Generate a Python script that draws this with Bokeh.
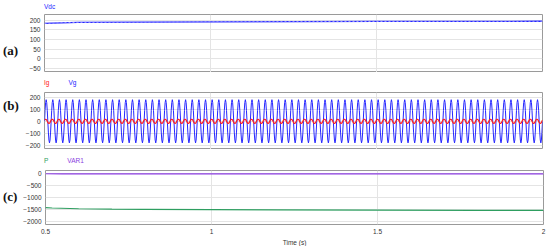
import numpy as np
from bokeh.plotting import figure
from bokeh.layouts import column, row
from bokeh.models import FixedTicker, Range1d, Div
from bokeh.embed import file_html
from bokeh.resources import INLINE

# ---------------- data ----------------
x_ticks = [0.5, 1, 1.5, 2]
x_tick_labels = {0.5: "0.5", 1: "1", 1.5: "1.5", 2: "2"}

vdc_t = [0.5, 0.55, 0.6, 0.8, 1.0, 1.5, 2.0]
vdc_v = [184, 187, 189, 191, 192, 194, 195]
a_ticks = [-50, 0, 50, 100, 150, 200]

grid_freq = 50           # Hz, cycles counted on the picture
n_cycles = 75
vg_cycle = [0, 90, 156, 180, 156, 90, 0, -90, -156, -180, -156, -90]
ig_cycle = [10, 15, 17, 15, 10, 0, -10, -15, -17, -15, -10, 0]
b_ticks = [-200, -100, 0, 100, 200]

p_t = [0.5, 0.52, 0.6, 0.7, 0.8, 1.0, 1.2, 1.5, 1.8, 2.0]
p_v = [-1420, -1440, -1470, -1490, -1500, -1510, -1520, -1530, -1535, -1540]
var_t = [0.5, 0.55, 0.6, 1.0, 1.5, 2.0]
var_v = [-5, -8, -10, -10, -12, -12]
c_ticks = [-2000, -1500, -1000, -500, 0]

# build sinusoidal traces from the per-cycle samples
spc = len(vg_cycle)
sine_t = 0.5 + np.arange(n_cycles * spc + 1) / (spc * grid_freq)
vg_v = np.array((vg_cycle * (n_cycles + 1))[: len(sine_t)])
ig_v = np.array((ig_cycle * (n_cycles + 1))[: len(sine_t)])

# ---------------- styling ----------------
FONT = "Liberation Sans"
SMALL = "6.5px"
TXT = "#333333"
GRID = "#e4e4e4"
OUTLINE = "#9a9a9a"
BLUE = "#2626ff"
RED = "#ff2020"
GREEN = "#2e9e60"
PURPLE = "#8a3de0"

FW = 498
LBL_W = 20


def make_panel(frame_h, border_top, border_bottom, y_range, y_ticks, show_x):
    p = figure(
        frame_width=FW, frame_height=frame_h,
        min_border_left=24, min_border_right=8,
        min_border_top=border_top, min_border_bottom=border_bottom,
        x_range=Range1d(0.5, 2.0), y_range=Range1d(*y_range),
        output_backend="svg", toolbar_location=None,
        background_fill_color="white", border_fill_color="white",
        margin=0,
    )
    p.outline_line_color = OUTLINE
    p.outline_line_width = 1
    for ax in (p.xaxis, p.yaxis):
        ax.axis_line_color = None
        ax.major_tick_line_color = None
        ax.minor_tick_line_color = None
        ax.major_tick_out = 0
        ax.major_tick_in = 0
        ax.minor_tick_out = 0
        ax.minor_tick_in = 0
        ax.major_label_text_font = FONT
        ax.major_label_text_font_size = SMALL
        ax.major_label_text_color = TXT
    p.yaxis.ticker = FixedTicker(ticks=y_ticks)
    p.yaxis.major_label_standoff = 4
    p.ygrid.ticker = FixedTicker(ticks=y_ticks)
    p.ygrid.grid_line_color = GRID
    p.xgrid.ticker = FixedTicker(ticks=[1, 1.5])
    p.xgrid.grid_line_color = GRID
    p.xaxis.ticker = FixedTicker(ticks=x_ticks)
    p.xaxis.major_label_overrides = x_tick_labels
    p.xaxis.major_label_standoff = 4
    if not show_x:
        p.xaxis.visible = False
    return p


def title_div(parts, height, pad_top, shift=0):
    spans = []
    for i, (txt, col) in enumerate(parts):
        ml = "0px" if i == 0 else "19px"
        spans.append(f'<span style="color:{col};margin-left:{ml}">{txt}</span>')
    html = (f'<div style="padding-left:{LBL_W + 24}px;padding-top:{pad_top}px;'
            f'position:relative;top:{shift}px;'
            f'line-height:12px;font-family:\'{FONT}\';font-size:{SMALL};white-space:nowrap">'
            + "".join(spans) + "</div>")
    return Div(text=html, width=550, height=height, margin=0)


def letter_div(txt, height, center):
    html = (f'<div style="padding-top:{center - 7}px;line-height:14px;padding-left:3px;'
            f'font-family:\'Liberation Serif\';font-weight:bold;font-size:13px;'
            f'color:#111111;white-space:nowrap">{txt}</div>')
    return Div(text=html, width=LBL_W, height=height, margin=0)


# (a) Vdc
pa = make_panel(58, 2, 0, (-70, 230), a_ticks, False)
pa.line(vdc_t, vdc_v, line_color=BLUE, line_width=1.3)
pa.line(vdc_t, vdc_v, line_color="#9a9aff", line_width=1, line_dash="2 2")

# (b) Ig, Vg
pb = make_panel(57, 2, 0, (-235, 240), b_ticks, False)
pb.line(sine_t, vg_v, line_color=BLUE, line_width=1)
pb.line(sine_t, ig_v, line_color=RED, line_width=1.2)

# (c) P, VAR1
pc = make_panel(54, 2, 22, (-2130, 130), c_ticks, True)
pc.line(p_t, p_v, line_color=GREEN, line_width=1.2)
pc.line(var_t, var_v, line_color=PURPLE, line_width=1.2)
pc.xaxis.axis_label = "Time (s)"
pc.xaxis.axis_label_text_font = FONT
pc.xaxis.axis_label_text_font_size = SMALL
pc.xaxis.axis_label_text_font_style = "normal"
pc.xaxis.axis_label_text_color = TXT
pc.xaxis.axis_label_standoff = 2

layout = column(
    title_div([("Vdc", BLUE)], 12, 0, -3),
    row(letter_div("(a)", 60, 39), pa, spacing=0),
    title_div([("Ig", RED), ("Vg", BLUE)], 18, 6, -1),
    row(letter_div("(b)", 59, 16), pb, spacing=0),
    title_div([("P", GREEN), ("VAR1", PURPLE)], 19, 6, 0),
    row(letter_div("(c)", 78, 29), pc, spacing=0),
    spacing=0,
)

open("out.html", "w").write(file_html(layout, INLINE))
